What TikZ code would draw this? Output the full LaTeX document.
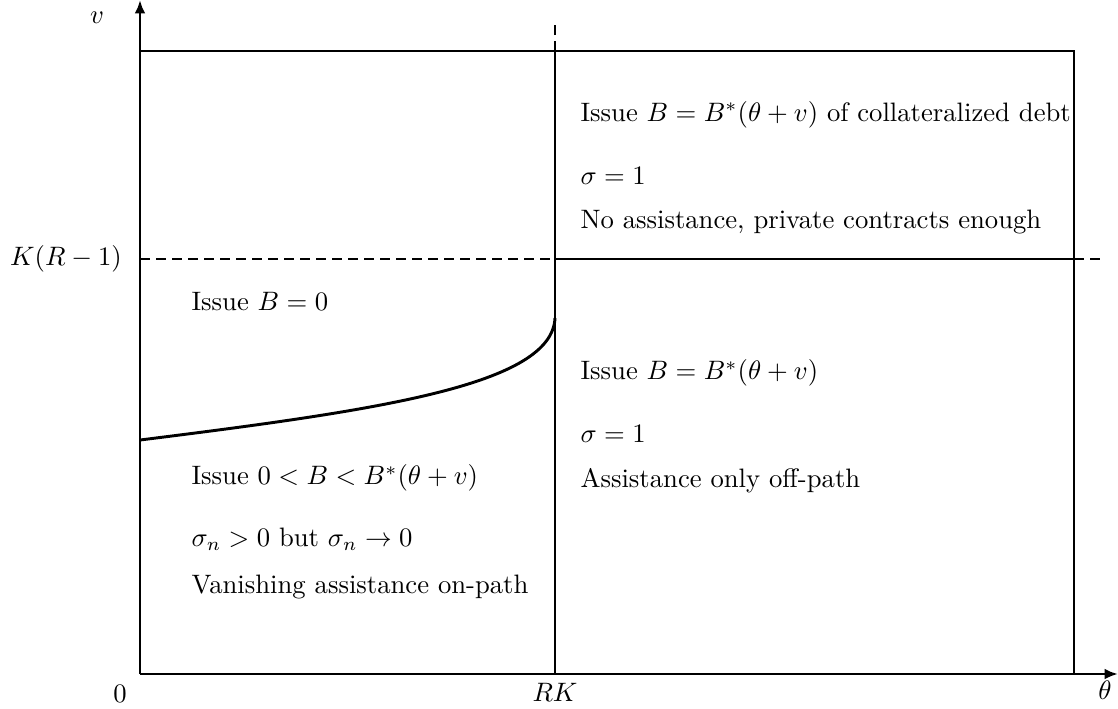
\documentclass[tikz,border=0pt]{standalone}
\usetikzlibrary{arrows.meta}
\begin{document}
\begin{tikzpicture}[x=0.375pt,y=-0.375pt,
  ln/.style={line width=1.1pt},
  dsh/.style={line width=1.1pt,dash pattern=on 3.75pt off 2.25pt},
  ax/.style={line width=1.1pt,-{Latex[length=5pt,width=4pt]}},
  txt/.style={anchor=west,inner sep=0pt}]
\useasboundingbox (0,0) rectangle (1118,708);
\coordinate (O) at (140,674);
\coordinate (Ytop) at (140,0);
\coordinate (Xend) at (1118,674);
\coordinate (TL) at (140,51);
\coordinate (TR) at (1074,51);
\coordinate (BR) at (1074,674);
\coordinate (MB) at (555,674);
\coordinate (MT) at (555,51);
\coordinate (MTT) at (555,20);
\coordinate (HL) at (140,259);
\coordinate (HM) at (555,259);
\coordinate (HR) at (1074,259);
\coordinate (HRR) at (1104,259);
\coordinate (C0) at (140,440);
\coordinate (C1) at (555,318);
% axes
\draw[ax] (O) -- (Ytop);
\draw[ax] (O) -- (Xend);
% box
\draw[ln] (TL) -- (TR) -- (BR);
\draw[ln] (MB) -- (MT);
\draw[dsh] (MT) -- (MTT);
\draw[dsh] (HL) -- (HM);
\draw[ln] (HM) -- (HR);
\draw[dsh] (HR) -- (HRR);
% curve
\draw[ln] (C0) .. controls (380,410) and (552,385) .. (C1);
% axis labels
\node (lv) at (97,18) {$v$};
\node (lk) at (66,259) {$K(R-1)$};
\node (l0) at (120,694) {$0$};
\node (lrk) at (555,692) {$RK$};
\node (lth) at (1105,690) {$\theta$};
% texts
\node[txt] (a1) at (580,115) {Issue $B=B^{*}(\theta+v)$ of collateralized debt};
\node[txt] (a2) at (580,176) {$\sigma=1$};
\node[txt] (a3) at (580,222) {No assistance, private contracts enough};
\node[txt] (b1) at (191,302) {Issue $B=0$};
\node[txt] (c1) at (580,373) {Issue $B=B^{*}(\theta+v)$};
\node[txt] (c2) at (580,434) {$\sigma=1$};
\node[txt] (c3) at (580,481) {Assistance only off-path};
\node[txt] (d1) at (191,478) {Issue $0<B<B^{*}(\theta+v)$};
\node[txt] (d2) at (191,539) {$\sigma_n>0$ but $\sigma_n\to0$};
\node[txt] (d3) at (191,587) {Vanishing assistance on-path};
\end{tikzpicture}
\end{document}
